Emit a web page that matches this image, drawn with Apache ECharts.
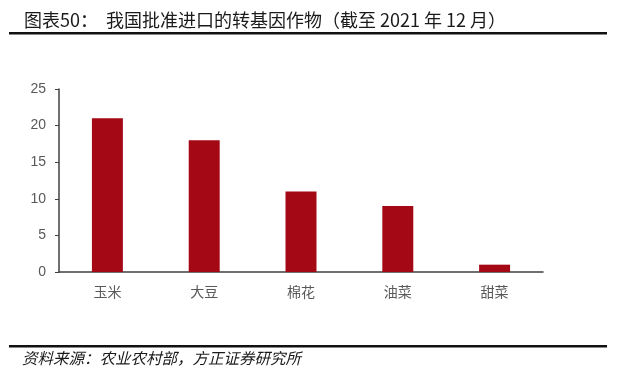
<!DOCTYPE html>
<html><head><meta charset="utf-8">
<script src="https://cdn.jsdelivr.net/npm/echarts@6/dist/echarts.min.js"></script>
<style>html,body{margin:0;padding:0;background:#fff}#c{width:641px;height:380px}</style>
</head><body><div id="c"></div>
<script>
const categories = ['玉米', '大豆', '棉花', '油菜', '甜菜'];
const values = [21, 18, 11, 9, 1];
const yTicks = [0, 5, 10, 15, 20, 25];
const titleText = '图表50：  我国批准进口的转基因作物（截至 2021 年 12 月）';
const sourceText = '资料来源：农业农村部，方正证券研究所';

const chart = echarts.init(document.getElementById('c'));
chart.setOption({
  backgroundColor: '#fff',
  animation: false,
  title: {
    text: titleText, left: 19, top: 6,
    textStyle: { fontFamily: '"Noto Sans CJK SC"', fontSize: 18, fontWeight: 'normal', color: '#1a1a1a' }
  },
  graphic: [
    { type: 'rect', shape: { x: 9, y: 32, width: 598, height: 2.5 }, style: { fill: '#111' } },
    { type: 'rect', shape: { x: 9, y: 345, width: 598, height: 2.5 }, style: { fill: '#111' } },
    { type: 'text', left: 22, top: 350, style: { text: sourceText, font: 'italic 15.5px "Noto Sans CJK SC"', fill: '#1a1a1a' } }
  ],
  grid: { left: 59, right: 98, top: 89, bottom: 108 },
  xAxis: {
    type: 'category', data: categories,
    axisLine: { lineStyle: { color: '#404040', width: 1.5 } },
    axisTick: { inside: true, length: 4, lineStyle: { color: '#404040' } },
    axisLabel: { color: '#595959', fontSize: 14, margin: 13, fontFamily: '"Noto Sans CJK SC"' }
  },
  yAxis: {
    type: 'value', min: yTicks[0], max: yTicks[yTicks.length - 1], interval: 5,
    axisLine: { show: true, lineStyle: { color: '#404040', width: 1.5 } },
    axisTick: { show: true, length: 4, lineStyle: { color: '#404040' } },
    splitLine: { show: false },
    axisLabel: { color: '#595959', fontSize: 14, margin: 13, fontFamily: 'Liberation Sans' }
  },
  series: [{
    type: 'bar', data: values, barWidth: '32%',
    itemStyle: { color: '#A50815' }
  }]
});
</script></body></html>
